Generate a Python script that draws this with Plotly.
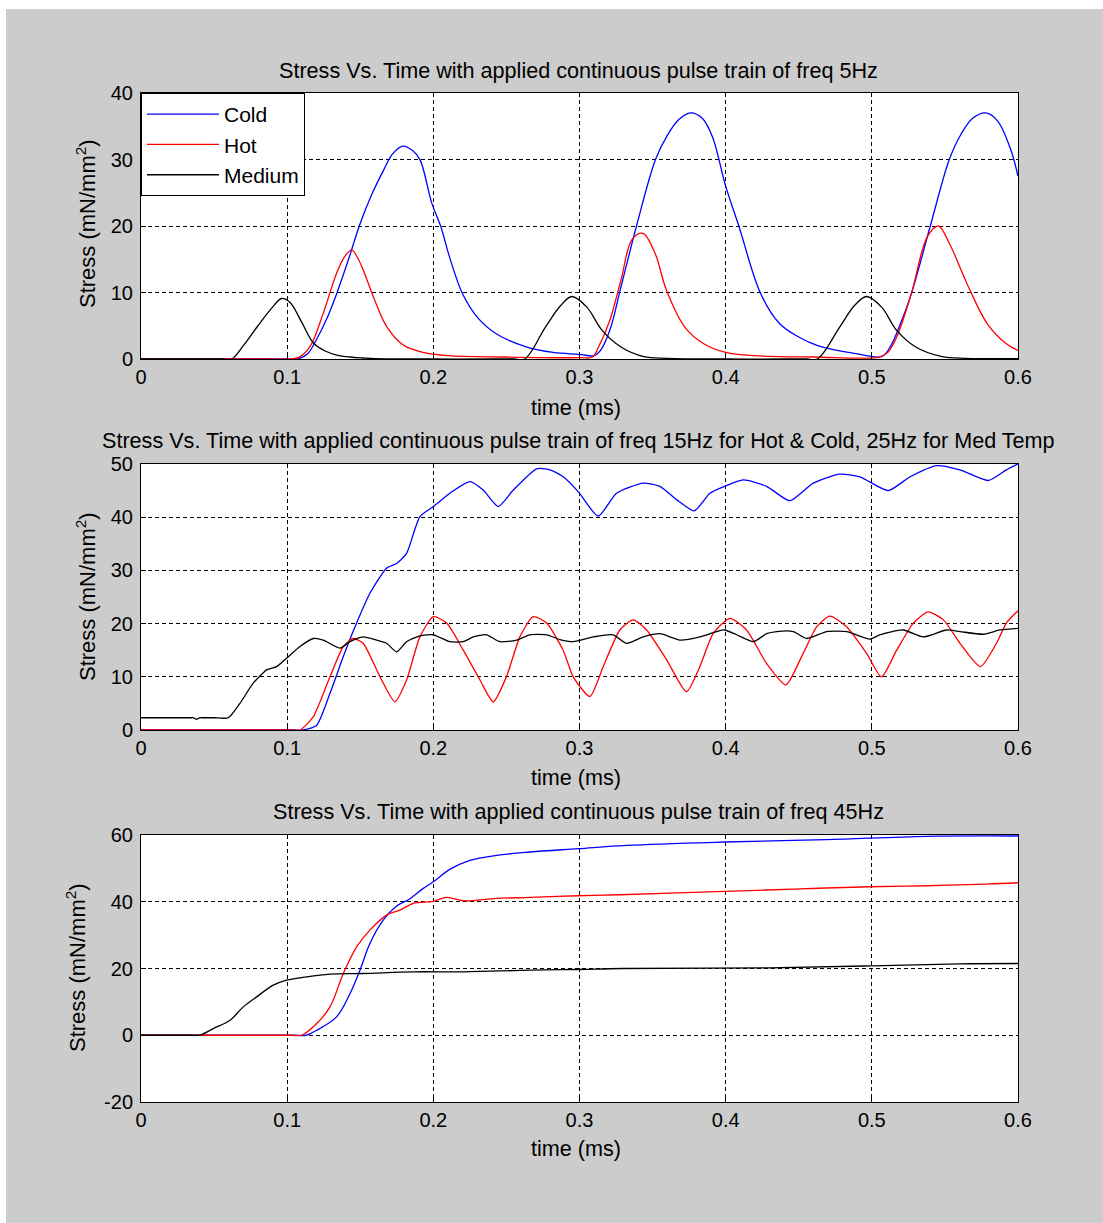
import plotly.graph_objects as go

# ---------------- data ----------------
# Panel 1 : 5 Hz
c1_t = [0, 0.05, 0.09, 0.100, 0.107, 0.114, 0.120, 0.127, 0.134, 0.142, 0.150, 0.158, 0.166, 0.172, 0.179, 0.186,
        0.191, 0.199, 0.205, 0.211, 0.220, 0.230, 0.243, 0.264, 0.282, 0.300, 0.310, 0.315, 0.321, 0.328, 0.339,
        0.352, 0.360, 0.368, 0.376, 0.384, 0.391, 0.400, 0.409, 0.424, 0.437, 0.450, 0.463, 0.489, 0.507, 0.513,
        0.519, 0.527, 0.540, 0.553, 0.561, 0.569, 0.578, 0.586, 0.595, 0.600]
c1_v = [0, 0, 0, 0, 0, 0.8, 2.9, 6.0, 9.9, 15.0, 20.4, 24.8, 28.4, 30.8, 32.0, 31.3,
        29.9, 23.4, 20.0, 15.4, 9.8, 6.3, 3.8, 1.8, 1.0, 0.7, 0.5, 1.5, 4.5, 10.5, 20.0,
        30.0, 33.6, 36.0, 37.0, 36.2, 33.4, 26.0, 20.0, 9.8, 5.3, 3.3, 2.0, 0.8, 0.4, 2.0,
        5.0, 9.8, 20.0, 30.0, 33.8, 36.2, 37.0, 35.8, 31.5, 27.5]
h1_t = [0, 0.05, 0.09, 0.100, 0.1076, 0.1156, 0.1247, 0.1338, 0.139, 0.1441, 0.148, 0.152, 0.1589, 0.168, 0.1794,
        0.193, 0.21, 0.25, 0.30, 0.309, 0.313, 0.3207, 0.3284, 0.336, 0.3434, 0.3517, 0.3594, 0.372, 0.385, 0.40,
        0.42, 0.46, 0.505, 0.511, 0.517, 0.527, 0.538, 0.5455, 0.553, 0.566, 0.579, 0.592, 0.600]
h1_v = [0, 0, 0, 0, 0.2, 1.85, 6.9, 12.9, 15.3, 16.4, 15.3, 13.4, 9.4, 4.9, 2.1,
        1.0, 0.5, 0.3, 0.2, 0.3, 1.8, 5.8, 11.9, 18.0, 18.9, 15.9, 10.4, 4.8, 2.3, 1.0,
        0.5, 0.3, 0.3, 1.0, 3.3, 9.8, 18.4, 20.0, 17.4, 10.9, 5.3, 2.3, 1.3]
m1_t = [0, 0.03, 0.055, 0.062, 0.070, 0.080, 0.090, 0.0962, 0.102, 0.110, 0.118, 0.126, 0.134, 0.143, 0.152, 0.16,
        0.20, 0.24, 0.255, 0.2625, 0.2767, 0.287, 0.2948, 0.305, 0.3155, 0.3284, 0.344, 0.36, 0.40, 0.44, 0.455,
        0.4628, 0.478, 0.488, 0.4964, 0.5067, 0.517, 0.53, 0.548, 0.5636, 0.58, 0.6]
m1_v = [0, 0, 0, 0, 2.0, 5.0, 7.8, 9.1, 8.5, 5.5, 2.4, 1.2, 0.6, 0.3, 0.15, 0.05,
        0, 0, 0, 0, 4.8, 8.0, 9.4, 7.8, 4.3, 1.8, 0.35, 0.1, 0, 0, 0,
        0, 4.8, 8.0, 9.4, 7.8, 4.3, 1.8, 0.35, 0.1, 0.05, 0.05]

# Panel 2 : 15 Hz (Hot & Cold), 25 Hz (Medium)
c2_t = [0, 0.05, 0.09, 0.105, 0.111, 0.1202, 0.1293, 0.1384, 0.1475, 0.1566, 0.168, 0.1749, 0.1817, 0.1908, 0.2,
        0.2113, 0.225, 0.2341, 0.2444, 0.2547, 0.2707, 0.2798, 0.2889, 0.2991, 0.3128, 0.3253, 0.3436, 0.355,
        0.3664, 0.3785, 0.3892, 0.3993, 0.412, 0.428, 0.4439, 0.4599, 0.4781, 0.4918, 0.5112, 0.5262, 0.5443,
        0.5603, 0.5796, 0.592, 0.6]
c2_v = [0, 0, 0, 0, 0, 0.9, 6.9, 13.8, 20.1, 25.7, 30.4, 31.3, 33.2, 40.1, 42.0,
        44.5, 46.7, 45.1, 42.0, 45.1, 49.1, 48.9, 47.6, 44.8, 40.2, 44.5, 46.4, 45.8,
        43.3, 41.2, 44.5, 45.8, 47.0, 45.8, 43.1, 46.4, 48.1, 47.6, 45.0, 47.6, 49.7,
        48.9, 46.9, 48.9, 50.0]
h2_t = [0, 0.05, 0.09, 0.103, 0.1088, 0.1179, 0.1293, 0.1384, 0.1452, 0.152, 0.1635, 0.1737, 0.1817, 0.1908, 0.2,
        0.2091, 0.2205, 0.2319, 0.241, 0.250, 0.2592, 0.2683, 0.2775, 0.2888, 0.2957, 0.3071, 0.3162, 0.3276,
        0.3367, 0.3459, 0.3596, 0.3732, 0.3823, 0.3914, 0.4029, 0.4143, 0.428, 0.4412, 0.453, 0.4622, 0.4713,
        0.4827, 0.4964, 0.5066, 0.517, 0.5284, 0.5385, 0.549, 0.5603, 0.5743, 0.5853, 0.592, 0.6]
h2_v = [0, 0, 0, 0, 0, 2.5, 10.0, 15.7, 17.2, 16.3, 10.0, 5.3, 9.4, 17.5, 21.3,
        20.1, 15.0, 9.4, 5.3, 10.0, 17.5, 21.3, 20.1, 15.0, 10.0, 6.3, 11.9, 18.8,
        20.7, 18.8, 13.2, 7.2, 11.9, 18.1, 21.0, 18.8, 12.5, 8.5, 14.4, 19.4, 21.4,
        19.4, 14.4, 10.0, 15.0, 20.1, 22.2, 20.7, 16.3, 11.9, 16.3, 20.1, 22.4]
m2_t = [0, 0.02, 0.034, 0.036, 0.038, 0.040, 0.042, 0.05, 0.0597, 0.0677, 0.0768, 0.086, 0.0928, 0.0996, 0.1088,
        0.1179, 0.1247, 0.1361, 0.143, 0.152, 0.1612, 0.168, 0.1749, 0.1817, 0.1908, 0.2, 0.2113, 0.2205, 0.2273,
        0.2364, 0.2455, 0.257, 0.266, 0.2775, 0.2866, 0.2957, 0.3094, 0.323, 0.3322, 0.3436, 0.355, 0.3687,
        0.3823, 0.3938, 0.3993, 0.4075, 0.419, 0.428, 0.4349, 0.4463, 0.4554, 0.4691, 0.4828, 0.4987, 0.5055,
        0.5215, 0.5352, 0.5511, 0.5603, 0.5763, 0.5877, 0.6]
m2_v = [2.3, 2.3, 2.3, 2.3, 2.0, 2.3, 2.3, 2.3, 2.3, 5.0, 8.8, 11.3, 11.9, 13.5, 15.7,
        17.2, 16.9, 15.4, 16.6, 17.5, 16.9, 16.3, 14.7, 16.6, 17.7, 17.9, 16.6, 16.6, 17.5,
        17.9, 16.6, 16.9, 17.9, 17.9, 17.0, 16.6, 17.5, 17.9, 16.3, 17.5, 18.1, 16.9,
        17.5, 18.5, 18.8, 17.9, 16.6, 18.1, 18.5, 18.5, 17.2, 18.5, 18.5, 17.1, 17.9,
        18.8, 17.5, 18.8, 18.5, 18.0, 18.8, 19.1]

# Panel 3 : 45 Hz
c3_t = [0, 0.03, 0.06, 0.09, 0.105, 0.113, 0.1202, 0.1338, 0.143, 0.1498, 0.1566, 0.1657, 0.1749, 0.184, 0.1931,
        0.2, 0.2113, 0.225, 0.2433, 0.266, 0.2991, 0.3322, 0.3993, 0.469, 0.5375, 0.6]
c3_v = [0, 0, 0, 0, 0, 0, 1.5, 5.5, 12.5, 19.5, 27.5, 34.5, 38.7, 40.9, 44.0,
        46.0, 49.7, 52.4, 53.9, 54.9, 55.9, 56.9, 57.9, 58.6, 59.6, 59.7]
h3_t = [0, 0.03, 0.06, 0.09, 0.103, 0.1099, 0.1202, 0.1293, 0.1384, 0.1475, 0.1566, 0.168, 0.1771, 0.1863, 0.2,
        0.2091, 0.2205, 0.2433, 0.2661, 0.2991, 0.3276, 0.3993, 0.4463, 0.4987, 0.5375, 0.5785, 0.6]
h3_v = [0, 0, 0, 0, 0, 0, 3.5, 8.5, 18.5, 26.5, 31.5, 36.0, 37.5, 39.5, 40.1,
        41.3, 40.3, 41.0, 41.3, 41.8, 42.1, 43.1, 43.8, 44.5, 44.8, 45.3, 45.7]
m3_t = [0, 0.015, 0.03, 0.036, 0.040, 0.0495, 0.0609, 0.07, 0.0791, 0.0905, 0.0997, 0.1133, 0.1293, 0.152, 0.1862,
        0.2205, 0.266, 0.298, 0.33, 0.43, 0.5, 0.56, 0.6]
m3_v = [0, 0, 0, 0, 0, 2.0, 4.5, 8.5, 11.5, 15.0, 16.5, 17.5, 18.3, 18.5, 19.0,
        19.0, 19.5, 19.7, 20.0, 20.2, 20.8, 21.4, 21.5]

series_names = ["Cold", "Hot", "Medium"]
series_colors = ["#0000ff", "#ff0000", "#000000"]

titles = [
    "Stress Vs. Time with applied continuous pulse train of freq 5Hz",
    "Stress Vs. Time with applied continuous pulse train of freq 15Hz for Hot & Cold, 25Hz for Med Temp",
    "Stress Vs. Time with applied continuous pulse train of freq 45Hz",
]
xlabel = "time (ms)"
ylabel = "Stress (mN/mm<sup>2</sup>)"
x_ticks = [0, 0.1, 0.2, 0.3, 0.4, 0.5, 0.6]
y_ticks = [[0, 10, 20, 30, 40], [0, 10, 20, 30, 40, 50], [-20, 0, 20, 40, 60]]
y_ranges = [[0, 40], [0, 50], [-20, 60]]

panels = [
    [(c1_t, c1_v), (h1_t, h1_v), (m1_t, m1_v)],
    [(c2_t, c2_v), (h2_t, h2_v), (m2_t, m2_v)],
    [(c3_t, c3_v), (h3_t, h3_v), (m3_t, m3_v)],
]

# ---------------- layout geometry (reference pixel coords; body margin removed) ----------------
W, H = 1103, 1223
PL, PR, PT, PB = 141, 1018, 93, 1102          # plot-area edges in reference pixels
L, R, T, B = PL, W - PR, PT, H - PB
PW, PH = W - L - R, H - T - B
def px(x):
    return (x - L) / PW
def py(y):
    return (H - B - y) / PH

panel_px = [(93, 359), (464, 730), (835, 1102)]
domains = [[py(b), py(t)] for t, b in panel_px]

FONT = "Liberation Sans, Arial, Helvetica, sans-serif"
FS_TICK = 20
FS_TEXT = 21.6

fig = go.Figure()
smooth = [1.0, 0.6, 1.0]
for i, panel in enumerate(panels):
    xa = "x" if i == 0 else f"x{i+1}"
    ya = "y" if i == 0 else f"y{i+1}"
    for j, (t, v) in enumerate(panel):
        fig.add_trace(go.Scatter(
            x=t, y=v, mode="lines", name=series_names[j],
            line=dict(color=series_colors[j], width=1.3, shape="spline", smoothing=smooth[i]),
            xaxis=xa, yaxis=ya, showlegend=(i == 0),
        ))

axis_common = dict(
    showline=True, linecolor="black", linewidth=1, mirror=True,
    ticks="inside", ticklen=5, tickcolor="black",
    showgrid=True, gridcolor="black", gridwidth=1, griddash="4px,3px",
    zeroline=False, tickfont=dict(family=FONT, size=FS_TICK, color="black"),
)

layout = dict(
    width=W, height=H,
    margin=dict(l=L, r=R, t=T, b=B, pad=0),
    paper_bgcolor="#cccccc", plot_bgcolor="white",
    font=dict(family=FONT, size=FS_TEXT, color="black"),
    showlegend=True,
    legend=dict(x=0, y=1, xanchor="left", yanchor="top",
                bgcolor="white", bordercolor="black", borderwidth=1,
                font=dict(family=FONT, size=21, color="black"),
                itemwidth=72, tracegroupgap=0),
)
for i in range(3):
    xk = "xaxis" if i == 0 else f"xaxis{i+1}"
    yk = "yaxis" if i == 0 else f"yaxis{i+1}"
    ya = "y" if i == 0 else f"y{i+1}"
    xa = "x" if i == 0 else f"x{i+1}"
    layout[xk] = dict(axis_common, domain=[0, 1], range=[0, 0.6], tickvals=x_ticks,
                      ticktext=[f"{v:g}" for v in x_ticks], anchor=ya)
    layout[yk] = dict(axis_common, domain=domains[i], range=y_ranges[i], tickvals=y_ticks[i],
                      ticktext=[f"{v:g}" for v in y_ticks[i]], anchor=xa, ticklabelstandoff=3)
fig.update_layout(**layout)

# titles, axis labels
title_y = [70, 440, 811]
xlab_y = [407, 777, 1148]
ylab_x = [86, 86, 76]
ylab_y = [224, 597, 968]
for i in range(3):
    fig.add_annotation(text=titles[i], xref="paper", yref="paper", x=px(578), y=py(title_y[i]),
                       showarrow=False, xanchor="center", yanchor="middle",
                       font=dict(family=FONT, size=FS_TEXT, color="black"))
    fig.add_annotation(text=xlabel, xref="paper", yref="paper", x=px(576), y=py(xlab_y[i]),
                       showarrow=False, xanchor="center", yanchor="middle",
                       font=dict(family=FONT, size=FS_TEXT, color="black"))
    fig.add_annotation(text=ylabel, xref="paper", yref="paper", x=px(ylab_x[i]), y=py(ylab_y[i]),
                       showarrow=False, xanchor="center", yanchor="middle", textangle=-90,
                       font=dict(family=FONT, size=22, color="black"))

# thin white margins at the top and left of the reference figure
fig.add_shape(type="rect", xref="paper", yref="paper", x0=px(0), x1=px(6), y0=py(H), y1=py(0),
              fillcolor="white", line=dict(width=0), layer="below")
fig.add_shape(type="rect", xref="paper", yref="paper", x0=px(0), x1=px(W), y0=py(9), y1=py(0),
              fillcolor="white", line=dict(width=0), layer="below")

fig.write_html("out.html", config={"displayModeBar": False},
               post_script="document.body.style.margin='0';document.body.style.overflow='hidden';")
